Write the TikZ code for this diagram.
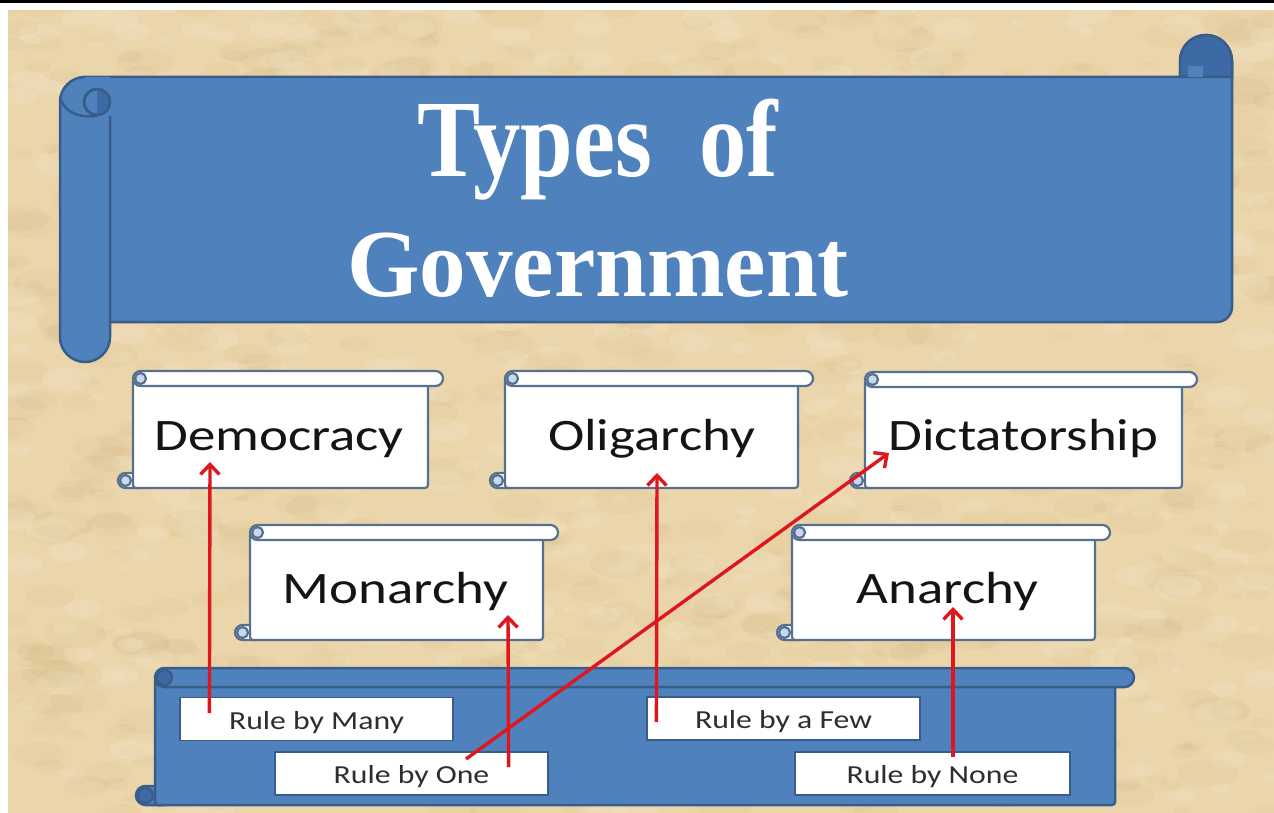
\documentclass[tikz,border=0pt]{standalone}
\usepackage{fontspec}
\usetikzlibrary{arrows.meta}
\newfontfamily\titlefont{Liberation Serif}
\newfontfamily\labfont[FakeStretch=1.22]{Carlito}
\definecolor{bgc}{HTML}{EBD6AC}
\definecolor{bgd}{HTML}{CFB27B}
\definecolor{bgl}{HTML}{F5E8CC}
\definecolor{bluef}{HTML}{4F81BD}
\definecolor{bluel}{HTML}{385D8A}
\definecolor{bluec}{HTML}{3D6AA5}
\definecolor{whl}{HTML}{56708F}
\definecolor{whc}{HTML}{C9D8EC}
\definecolor{arrred}{HTML}{E0161E}
% horizontal scroll: #1 L, #2 T, #3 R, #4 B, #5 h, #6 fill, #7 line, #8 curl
\newcommand{\hscrollshape}[8]{%
  \filldraw[fill=#6,draw=#7,rounded corners=#5*0.5pt] (#1-#5,-#4+#5) rectangle (#1+#5,-#4);
  \filldraw[fill=#6,draw=#7,rounded corners=3pt] (#1,-#2-#5/2) rectangle (#3,-#4);
  \filldraw[fill=#6,draw=#7,rounded corners=#5*0.5pt] (#1,-#2) rectangle (#3+#5,-#2-#5);
  \filldraw[fill=#8,draw=#7] (#1+#5/2,-#2-#5/2) circle (#5/2-2);
  \filldraw[fill=#8,draw=#7] (#1-#5/2,-#4+#5/2) circle (#5/2-2);
}
\tikzset{
  titletxt/.style={text=white, anchor=base, inner sep=0pt},
  biglabel/.style={font=\labfont\fontsize{45}{50}\selectfont, text=black!92, inner sep=0pt, anchor=base},
  rulebox/.style={fill=white, draw=bluel, line width=1.2pt, minimum width=273pt, minimum height=43pt,
    inner sep=0pt, text height=22pt, text depth=2pt, font=\labfont\fontsize{26}{30}\selectfont, text=black!82},
  conn/.style={draw=arrred, line width=3.4pt, -{Straight Barb[length=10pt,width=19pt]}},
  wscroll/.style={line width=2.2pt},
  bscroll/.style={line width=2.5pt}
}
\begin{document}
\begin{tikzpicture}[x=1pt,y=1pt]
\useasboundingbox (0,0) rectangle (1274,-813);
% background parchment
\fill[bgc] (0,0) rectangle (1274,-813);
\pgfmathsetseed{11}
\begin{scope}
\clip (0,0) rectangle (1274,-813);
\foreach \i in {1,...,700}{
  \pgfmathsetmacro\xx{random(0,1274)}
  \pgfmathsetmacro\yy{-random(0,813)}
  \pgfmathsetmacro\rr{random(3,14)}
  \fill[bgd, opacity=0.13] (\xx,\yy) ellipse ({\rr*2.2} and {\rr});
}
\foreach \i in {1,...,500}{
  \pgfmathsetmacro\xx{random(0,1274)}
  \pgfmathsetmacro\yy{-random(0,813)}
  \pgfmathsetmacro\rr{random(3,12)}
  \fill[bgl, opacity=0.22] (\xx,\yy) ellipse ({\rr*2} and {\rr});
}
\end{scope}
\fill[white] (0,-3) rectangle (1274,-10);
\fill[white] (0,0) rectangle (8,-813);
\fill[black] (0,0) rectangle (1274,-3.5);

% title banner
\begin{scope}[line width=2.5pt, draw=bluel]
\filldraw[fill=bluef] (85,-77) -- (1180,-77) -- (1180,-61) arc[start angle=180,end angle=0,radius=26]
  -- (1232,-307) arc[start angle=0,end angle=-90,radius=15] -- (100,-322) -- (85,-322) -- cycle;
\filldraw[fill=bluec] (1180,-77) -- (1180,-61) arc[start angle=180,end angle=0,radius=26] -- (1232,-77) -- cycle;
\fill[bluef] (1188,-66) rectangle (1203,-77);
\draw (1180,-77) -- (1180,-61);
\draw (1232,-61) -- (1232,-90);
% left roll
\fill[bluef] (60,-102) arc[start angle=180,end angle=90,radius=25] -- (110,-77) -- (110,-337)
  arc[start angle=0,end angle=-180,radius=25] -- cycle;
\draw (110,-116) -- (110,-337) arc[start angle=0,end angle=-180,radius=25] -- (60,-102)
  arc[start angle=180,end angle=90,radius=25];
\draw (61,-100) .. controls (66,-114) and (82,-118) .. (97,-116);
\filldraw[fill=bluef] (97,-102) circle (13);
\fill[bluec] (97,-89) arc[start angle=90,end angle=-90,radius=13] -- cycle;
\draw (97,-102) circle (13);
\end{scope}
\node[titletxt, font=\titlefont\bfseries\fontsize{110}{110}\selectfont] (t1) at (597.5,-177) {\scalebox{0.86}[1]{Types\ \ of}};
\node[titletxt, font=\titlefont\bfseries\fontsize{96}{96}\selectfont] (t2) at (598,-296) {\scalebox{0.97}[1]{Government}};

% white scrolls
\begin{scope}[wscroll]
\hscrollshape{133}{371}{428}{488}{15}{white}{whl}{whc}
\hscrollshape{505}{371}{798}{488}{15}{white}{whl}{whc}
\hscrollshape{865}{372}{1182}{488}{15}{white}{whl}{whc}
\hscrollshape{250}{525}{543}{640}{15}{white}{whl}{whc}
\hscrollshape{792}{525}{1095}{640}{15}{white}{whl}{whc}
\end{scope}
\node[biglabel] (democracy) at (279,-450) {Democracy};
\node[biglabel] (oligarchy) at (651.5,-450) {Oligarchy};
\node[biglabel] (dictatorship) at (1023.5,-450) {Dictatorship};
\node[biglabel] (monarchy) at (395.5,-603) {Monarchy};
\node[biglabel] (anarchy) at (947.5,-603) {Anarchy};

% bottom banner
\begin{scope}[bscroll]
\hscrollshape{155}{668}{1115}{805}{19}{bluef}{bluel}{bluec}
\end{scope}
\node[rulebox] (manyrule) at (316.5,-719) {Rule by Many};
\node[rulebox] (onerule) at (411.5,-773.5) {Rule by One};
\node[rulebox] (ferule) at (783.5,-718.5) {Rule by a Few};
\node[rulebox, minimum width=275pt] (nonerule) at (932.5,-773.5) {Rule by None};

% arrows
\draw[conn] ([shift={(30,6)}]manyrule.west) -- ([shift={(-69,-12)}]democracy.base);
\draw[conn] ([shift={(-40,6.5)}]onerule.east) -- ([shift={(112.5,-12)}]monarchy.base);
\draw[conn] ([shift={(54.5,14.5)}]onerule.center) -- ([shift={(-134.5,-3)}]dictatorship.base);
\draw[conn] ([shift={(10,-3.5)}]ferule.west) -- ([shift={(5.5,-23)}]oligarchy.base);
\draw[conn] ([shift={(20.5,16.5)}]nonerule.center) -- ([shift={(5.5,-4)}]anarchy.base);
\end{tikzpicture}
\end{document}
